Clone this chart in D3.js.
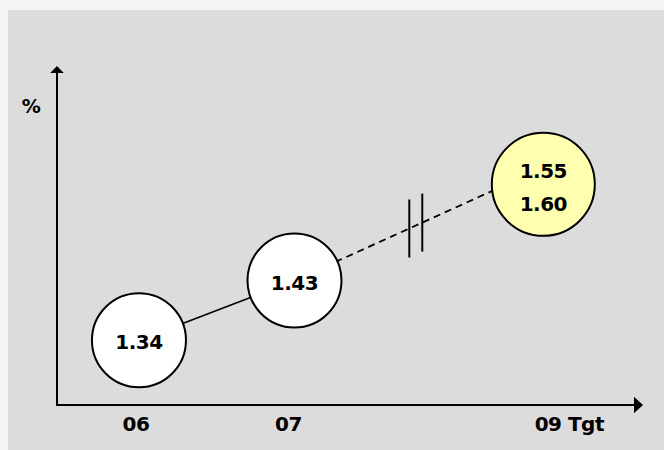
<!DOCTYPE html>
<html>
<head>
<meta charset="utf-8">
<script src="https://cdn.jsdelivr.net/npm/d3@7"></script>
<style>
  html, body { margin: 0; padding: 0; background: #f4f4f4; }
  svg { display: block; }
  text { font-family: "DejaVu Sans", Verdana, sans-serif; font-weight: bold; fill: #000; letter-spacing: -0.5px; }
</style>
</head>
<body>
<svg id="chart" width="664" height="450"></svg>
<script>
// ---- data ----
const categories = ["06", "07", "09 Tgt"];
const categoryPos = [0, 1, 2.6];          // position along the (broken) time axis
const valuesLow  = [1.34, 1.43, 1.55];
const valuesHigh = [1.34, 1.43, 1.60];
const unitLabel = "%";
const breakPos = 1.78;                    // axis break between 07 and 09 Tgt

// ---- layout ----
const W = 664, H = 450;
const panel = { x: 8, y: 10 };
const axisX0 = 57, axisX1 = 643, axisY0 = 405, axisY1 = 66;
const labelDx = [-3, -6, 26];
const fontSize = 20;

const svg = d3.select("#chart");
svg.append("rect").attr("x", panel.x).attr("y", panel.y)
  .attr("width", W - panel.x).attr("height", H - panel.y).attr("fill", "#dcdcdc");

const x = d3.scaleLinear().domain([-0.527, 3.241]).range([axisX0, axisX1]);
const y = d3.scaleLinear().domain([1.2423, 1.7534]).range([axisY0, axisY1]);

const pts = categories.map((c, i) => ({
  cat: c, pos: categoryPos[i], lo: valuesLow[i], hi: valuesHigh[i],
  mid: (valuesLow[i] + valuesHigh[i]) / 2
}));

// axes
const g = svg.append("g");
g.append("line").attr("x1", x.range()[0]).attr("x2", x.range()[1] - 8)
  .attr("y1", y.range()[0]).attr("y2", y.range()[0])
  .attr("stroke", "#000").attr("stroke-width", 2);
g.append("line").attr("x1", x.range()[0]).attr("x2", x.range()[0])
  .attr("y1", y.range()[0] + 1).attr("y2", y.range()[1] + 6)
  .attr("stroke", "#000").attr("stroke-width", 2);
// arrowheads
const xr = x.range()[1], yb = y.range()[0], yt = y.range()[1], xl = x.range()[0];
g.append("path").attr("d", d3.line()([[xr, yb], [xr - 9, yb - 8.3], [xr - 9, yb + 8.3]]) + "Z").attr("fill", "#000");
g.append("path").attr("d", d3.line()([[xl, yt], [xl - 6.8, yt + 7], [xl + 6.8, yt + 7]]) + "Z").attr("fill", "#000");

g.append("text").attr("x", 31).attr("y", 112.5).attr("text-anchor", "middle")
  .attr("font-size", fontSize - 1).text(unitLabel);

// category labels
g.selectAll("text.cat").data(pts).join("text").attr("class", "cat")
  .attr("x", (d, i) => x(d.pos) + labelDx[i]).attr("y", 431)
  .attr("text-anchor", "middle").attr("font-size", fontSize)
  .text(d => d.cat);

// connecting lines
// solid between actuals
g.append("line")
  .attr("x1", x(pts[0].pos)).attr("y1", y(pts[0].mid))
  .attr("x2", x(pts[1].pos)).attr("y2", y(pts[1].mid))
  .attr("stroke", "#000").attr("stroke-width", 1.6);
// dashed to target (high value)
const p1 = [x(pts[1].pos), y(pts[1].hi)], p2 = [x(pts[2].pos), y(pts[2].hi)];
g.append("line")
  .attr("x1", p1[0]).attr("y1", p1[1]).attr("x2", p2[0]).attr("y2", p2[1])
  .attr("stroke", "#000").attr("stroke-width", 1.8).attr("stroke-dasharray", "7,5")
  .attr("stroke-dashoffset", 3);

// break marks
const yOnDash = xx => p1[1] + (p2[1] - p1[1]) * (xx - p1[0]) / (p2[0] - p1[0]);
[-6.5, 6.5].forEach(dx => {
  const bx = x(breakPos) + dx;
  g.append("line").attr("x1", bx).attr("x2", bx)
    .attr("y1", yOnDash(bx) - 29).attr("y2", yOnDash(bx) + 29)
    .attr("stroke", "#000").attr("stroke-width", 2);
});

// circles
const radii = pts.map(d => d.lo === d.hi ? 47 : 51.5);
g.selectAll("circle.pt").data(pts).join("circle").attr("class", "pt")
  .attr("cx", d => x(d.pos)).attr("cy", d => y(d.mid))
  .attr("r", (d, i) => radii[i])
  .attr("fill", d => d.lo === d.hi ? "#ffffff" : "#ffffb0")
  .attr("stroke", "#000").attr("stroke-width", 2);

// values in circles
pts.forEach(d => {
  const cx = x(d.pos), cy = y(d.mid);
  if (d.lo === d.hi) {
    g.append("text").attr("x", cx).attr("y", cy + 9.3).attr("text-anchor", "middle")
      .attr("font-size", fontSize).text(d.lo.toFixed(2));
  } else {
    g.append("text").attr("x", cx).attr("y", cy - 6).attr("text-anchor", "middle")
      .attr("font-size", fontSize).text(d.lo.toFixed(2));
    g.append("text").attr("x", cx).attr("y", cy + 26.5).attr("text-anchor", "middle")
      .attr("font-size", fontSize).text(d.hi.toFixed(2));
  }
});
</script>
</body>
</html>
